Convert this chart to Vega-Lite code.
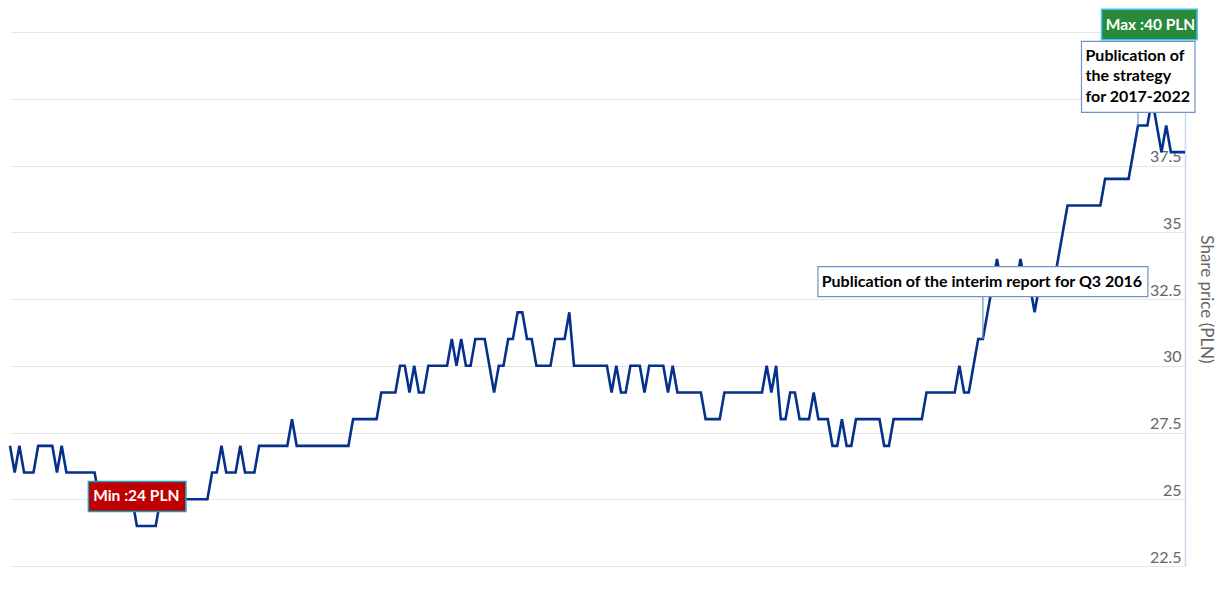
{
  "$schema": "https://vega.github.io/schema/vega-lite/v6.json",
  "width": 1175,
  "height": 534,
  "autosize": {"type": "none"},
  "padding": {"left": 10, "top": 32, "right": 34, "bottom": 35},
  "background": "white",
  "config": {"view": {"stroke": null}, "font": "Lato"},
  "datasets": {
    "price": [
      {"i":0,"p":27},{"i":1,"p":26},{"i":2,"p":27},{"i":3,"p":26},{"i":4,"p":26},{"i":5,"p":26},{"i":6,"p":27},{"i":7,"p":27},{"i":8,"p":27},{"i":9,"p":27},
      {"i":10,"p":26},{"i":11,"p":27},{"i":12,"p":26},{"i":13,"p":26},{"i":14,"p":26},{"i":15,"p":26},{"i":16,"p":26},{"i":17,"p":26},{"i":18,"p":26},{"i":19,"p":25},
      {"i":20,"p":25},{"i":21,"p":25},{"i":22,"p":25},{"i":23,"p":25},{"i":24,"p":25},{"i":25,"p":25},{"i":26,"p":25},{"i":27,"p":24},{"i":28,"p":24},{"i":29,"p":24},
      {"i":30,"p":24},{"i":31,"p":24},{"i":32,"p":25},{"i":33,"p":25},{"i":34,"p":25},{"i":35,"p":25},{"i":36,"p":25},{"i":37,"p":25},{"i":38,"p":25},{"i":39,"p":25},
      {"i":40,"p":25},{"i":41,"p":25},{"i":42,"p":25},{"i":43,"p":26},{"i":44,"p":26},{"i":45,"p":27},{"i":46,"p":26},{"i":47,"p":26},{"i":48,"p":26},{"i":49,"p":27},
      {"i":50,"p":26},{"i":51,"p":26},{"i":52,"p":26},{"i":53,"p":27},{"i":54,"p":27},{"i":55,"p":27},{"i":56,"p":27},{"i":57,"p":27},{"i":58,"p":27},{"i":59,"p":27},
      {"i":60,"p":28},{"i":61,"p":27},{"i":62,"p":27},{"i":63,"p":27},{"i":64,"p":27},{"i":65,"p":27},{"i":66,"p":27},{"i":67,"p":27},{"i":68,"p":27},{"i":69,"p":27},
      {"i":70,"p":27},{"i":71,"p":27},{"i":72,"p":27},{"i":73,"p":28},{"i":74,"p":28},{"i":75,"p":28},{"i":76,"p":28},{"i":77,"p":28},{"i":78,"p":28},{"i":79,"p":29},
      {"i":80,"p":29},{"i":81,"p":29},{"i":82,"p":29},{"i":83,"p":30},{"i":84,"p":30},{"i":85,"p":29},{"i":86,"p":30},{"i":87,"p":29},{"i":88,"p":29},{"i":89,"p":30},
      {"i":90,"p":30},{"i":91,"p":30},{"i":92,"p":30},{"i":93,"p":30},{"i":94,"p":31},{"i":95,"p":30},{"i":96,"p":31},{"i":97,"p":30},{"i":98,"p":30},{"i":99,"p":31},
      {"i":100,"p":31},{"i":101,"p":31},{"i":102,"p":30},{"i":103,"p":29},{"i":104,"p":30},{"i":105,"p":30},{"i":106,"p":31},{"i":107,"p":31},{"i":108,"p":32},{"i":109,"p":32},
      {"i":110,"p":31},{"i":111,"p":31},{"i":112,"p":30},{"i":113,"p":30},{"i":114,"p":30},{"i":115,"p":30},{"i":116,"p":31},{"i":117,"p":31},{"i":118,"p":31},{"i":119,"p":32},
      {"i":120,"p":30},{"i":121,"p":30},{"i":122,"p":30},{"i":123,"p":30},{"i":124,"p":30},{"i":125,"p":30},{"i":126,"p":30},{"i":127,"p":30},{"i":128,"p":29},{"i":129,"p":30},
      {"i":130,"p":29},{"i":131,"p":29},{"i":132,"p":30},{"i":133,"p":30},{"i":134,"p":30},{"i":135,"p":29},{"i":136,"p":30},{"i":137,"p":30},{"i":138,"p":30},{"i":139,"p":30},
      {"i":140,"p":29},{"i":141,"p":30},{"i":142,"p":29},{"i":143,"p":29},{"i":144,"p":29},{"i":145,"p":29},{"i":146,"p":29},{"i":147,"p":29},{"i":148,"p":28},{"i":149,"p":28},
      {"i":150,"p":28},{"i":151,"p":28},{"i":152,"p":29},{"i":153,"p":29},{"i":154,"p":29},{"i":155,"p":29},{"i":156,"p":29},{"i":157,"p":29},{"i":158,"p":29},{"i":159,"p":29},
      {"i":160,"p":29},{"i":161,"p":30},{"i":162,"p":29},{"i":163,"p":30},{"i":164,"p":28},{"i":165,"p":28},{"i":166,"p":29},{"i":167,"p":29},{"i":168,"p":28},{"i":169,"p":28},
      {"i":170,"p":28},{"i":171,"p":29},{"i":172,"p":28},{"i":173,"p":28},{"i":174,"p":28},{"i":175,"p":27},{"i":176,"p":27},{"i":177,"p":28},{"i":178,"p":27},{"i":179,"p":27},
      {"i":180,"p":28},{"i":181,"p":28},{"i":182,"p":28},{"i":183,"p":28},{"i":184,"p":28},{"i":185,"p":28},{"i":186,"p":27},{"i":187,"p":27},{"i":188,"p":28},{"i":189,"p":28},
      {"i":190,"p":28},{"i":191,"p":28},{"i":192,"p":28},{"i":193,"p":28},{"i":194,"p":28},{"i":195,"p":29},{"i":196,"p":29},{"i":197,"p":29},{"i":198,"p":29},{"i":199,"p":29},
      {"i":200,"p":29},{"i":201,"p":29},{"i":202,"p":30},{"i":203,"p":29},{"i":204,"p":29},{"i":205,"p":30},{"i":206,"p":31},{"i":207,"p":31},{"i":208,"p":32},{"i":209,"p":33},
      {"i":210,"p":34},{"i":211,"p":33},{"i":212,"p":33},{"i":213,"p":33},{"i":214,"p":33},{"i":215,"p":34},{"i":216,"p":33},{"i":217,"p":33},{"i":218,"p":32},{"i":219,"p":33},
      {"i":220,"p":33},{"i":221,"p":33},{"i":222,"p":33},{"i":223,"p":34},{"i":224,"p":35},{"i":225,"p":36},{"i":226,"p":36},{"i":227,"p":36},{"i":228,"p":36},{"i":229,"p":36},
      {"i":230,"p":36},{"i":231,"p":36},{"i":232,"p":36},{"i":233,"p":37},{"i":234,"p":37},{"i":235,"p":37},{"i":236,"p":37},{"i":237,"p":37},{"i":238,"p":37},{"i":239,"p":38},
      {"i":240,"p":39},{"i":241,"p":39},{"i":242,"p":39},{"i":243,"p":40},{"i":244,"p":39},{"i":245,"p":38},{"i":246,"p":39},{"i":247,"p":38},{"i":248,"p":38},{"i":249,"p":38},
      {"i":250,"p":38}
    ],
    "ann": [
      {"k":"min","i":27,"p":24,"t":"Min :24 PLN"},
      {"k":"max","i":243,"p":40,"t":"Max :40 PLN"},
      {"k":"q3","i":207,"p":31,"t":"Publication of the interim report for Q3 2016"},
      {"k":"strat","i":240,"p":39,"t":"Publication of\nthe strategy\nfor 2017-2022"}
    ]
  },
  "encoding": {
    "x": {"field": "i", "type": "quantitative", "scale": {"domain": [0, 250], "nice": false, "zero": false}, "axis": null},
    "y": {
      "field": "p", "type": "quantitative",
      "scale": {"domain": [22.5, 42.5], "nice": false, "zero": false},
      "axis": {
        "orient": "right",
        "values": [22.5, 25, 27.5, 30, 32.5, 35, 37.5, 40, 42.5],
        "format": ".3~g",
        "grid": true, "gridColor": "#e6e6e6", "gridWidth": 1,
        "domain": true, "domainColor": "#ccd6eb", "domainWidth": 1.5,
        "ticks": false,
        "labelAlign": "right", "labelPadding": -4, "labelBaseline": "alphabetic", "labelOffset": -4,
        "labelColor": "#666666", "labelFontSize": 16, "labelFont": "Lato", "labelFlush": false, "labelOverlap": false,
        "title": "Share price (PLN)", "titleColor": "#666666", "titleFontSize": 17, "titleFontWeight": "normal", "titleFont": "Lato",
        "titleAngle": 90, "titleX": 20, "titleY": 267, "titleAlign": "center", "titleBaseline": "middle"
      }
    }
  },
  "layer": [
    {"data": {"name": "price"}, "mark": {"type": "line", "color": "#05318a", "strokeWidth": 2.6, "interpolate": "linear"}},
    {"data": {"name": "ann"}, "transform": [{"filter": "datum.k == 'min'"}],
     "mark": {"type": "point", "filled": true, "opacity": 1, "size": 4, "shape": "M-48.5,-44.5H49V-14.5H-48.5Z", "fill": "#c00000", "stroke": "#1f9fbf", "strokeWidth": 1.5}},
    {"data": {"name": "ann"}, "transform": [{"filter": "datum.k == 'min'"}],
     "mark": {"type": "text", "dx": -0.6, "dy": -30, "align": "center", "baseline": "middle", "font": "Lato", "fontSize": 15.5, "fontWeight": "bold", "color": "white"},
     "encoding": {"text": {"field": "t"}}},
    {"data": {"name": "ann"}, "transform": [{"filter": "datum.k == 'max'"}],
     "mark": {"type": "point", "filled": true, "opacity": 1, "size": 4, "shape": "M-50.5,-89.5H45V-59H-50.5Z", "fill": "#2a8a3c", "stroke": "#3cc4f0", "strokeWidth": 1.5}},
    {"data": {"name": "ann"}, "transform": [{"filter": "datum.k == 'max'"}],
     "mark": {"type": "text", "dx": -1.6, "dy": -73.5, "align": "center", "baseline": "middle", "font": "Lato", "fontSize": 15.5, "fontWeight": "bold", "color": "white"},
     "encoding": {"text": {"field": "t"}}},
    {"data": {"name": "ann"}, "transform": [{"filter": "datum.k == 'q3'"}],
     "mark": {"type": "point", "filled": true, "opacity": 1, "size": 4, "shape": "M-165,-72.5H165V-42.5H-165Z M0,-42.5V0", "fill": "white", "stroke": "#6f93c8", "strokeWidth": 1.2}},
    {"data": {"name": "ann"}, "transform": [{"filter": "datum.k == 'q3'"}],
     "mark": {"type": "text", "dx": -1, "dy": -57, "align": "center", "baseline": "middle", "font": "Lato", "fontSize": 16, "fontWeight": "bold", "color": "black"},
     "encoding": {"text": {"field": "t"}}},
    {"data": {"name": "ann"}, "transform": [{"filter": "datum.k == 'strat'"}],
     "mark": {"type": "point", "filled": true, "opacity": 1, "size": 4, "shape": "M-56.5,-84H57V-13H-56.5Z M0,-13V0", "fill": "white", "stroke": "#6f93c8", "strokeWidth": 1.2}},
    {"data": {"name": "ann"}, "transform": [{"filter": "datum.k == 'strat'"}],
     "mark": {"type": "text", "dx": -52.5, "dy": -69.5, "align": "left", "baseline": "middle", "lineBreak": "\n", "lineHeight": 20.5, "font": "Lato", "fontSize": 16, "fontWeight": "bold", "color": "black"},
     "encoding": {"text": {"field": "t"}}}
  ]
}
